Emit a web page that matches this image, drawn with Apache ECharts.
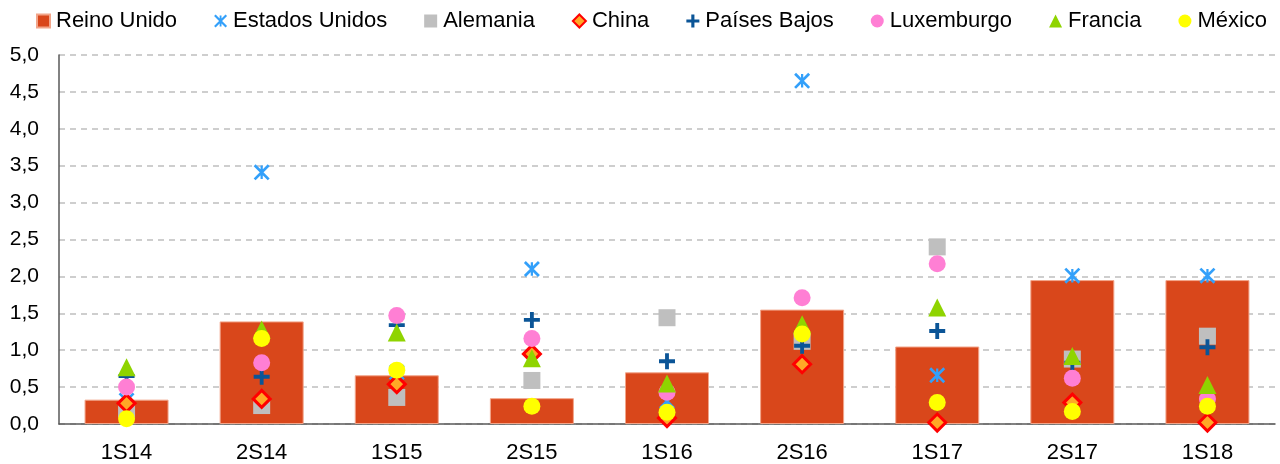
<!DOCTYPE html>
<html>
<head>
<meta charset="utf-8">
<title>Inversión por país</title>
<script src="https://cdn.jsdelivr.net/npm/echarts@6/dist/echarts.min.js"></script>
<style>
  html, body { margin: 0; padding: 0; background: #fff; }
  #chart { width: 1280px; height: 464px; }
</style>
</head>
<body>
<div id="chart"></div>
<script>
// categorías (semestres)
const categories = ["1S14", "2S14", "1S15", "2S15", "1S16", "2S16", "1S17", "2S17", "1S18"];

// valores
const reinoUnido    = [0.33, 1.39, 0.66, 0.35, 0.70, 1.55, 1.05, 1.95, 1.95];
const estadosUnidos = [0.32, 3.41, 0.70, 2.10, 0.31, 4.65, 0.66, 2.01, 2.01];
const alemania      = [0.20, 0.25, 0.36, 0.59, 1.44, 1.12, 2.40, 0.88, 1.19];
const china         = [0.28, 0.34, 0.54, 0.95, 0.08, 0.81, 0.02, 0.29, 0.02];
const paisesBajos   = [0.65, 0.64, 1.34, 1.41, 0.85, 1.06, 1.26, 0.83, 1.04];
const luxemburgo    = [0.50, 0.83, 1.47, 1.16, 0.43, 1.71, 2.17, 0.62, 0.34];
const francia       = [0.77, 1.28, 1.24, 0.89, 0.55, 1.35, 1.58, 0.92, 0.53];
const mexico        = [0.07, 1.16, 0.73, 0.24, 0.16, 1.22, 0.29, 0.17, 0.24];

// marcadores de estilo Excel
const starPath = "path://M0,12L12,0L100,88L88,100Z M88,0L100,12L12,100L0,88Z M43,8H57V92H43Z";
const plusPath = "path://M38,0H62V38H100V62H62V100H38V62H0V38H38Z";

const fmt = (v) => v.toFixed(1).replace(".", ",");

const scatter = (name, data, symbol, size, itemStyle) => ({
  name: name,
  type: "scatter",
  data: data,
  symbol: symbol,
  symbolSize: size,
  itemStyle: Object.assign({ opacity: 1 }, itemStyle),
});

const chart = echarts.init(document.getElementById("chart"));

const option = {
  animation: false,
  backgroundColor: "#fff",
  textStyle: { fontFamily: "Liberation Sans, Arial, sans-serif" },
  legend: {
    top: 5,
    left: 31,
    itemGap: 37,
    itemWidth: 13,
    itemHeight: 13,
    textStyle: { color: "#000", fontSize: 22, padding: [0, 0, 0, 1] },
    data: [
      { name: "Reino Unido", icon: "rect" },
      { name: "Estados Unidos" },
      { name: "Alemania" },
      { name: "China" },
      { name: "Países Bajos" },
      { name: "Luxemburgo" },
      { name: "Francia" },
      { name: "México" },
    ],
  },
  grid: { left: 59, right: 5, top: 55, bottom: 39 },
  xAxis: {
    type: "category",
    data: categories,
    axisLine: { lineStyle: { color: "#595959", width: 1.5 } },
    axisTick: { show: false },
    axisLabel: { color: "#000", fontSize: 22, margin: 18 },
  },
  yAxis: {
    type: "value",
    min: 0,
    max: 5,
    interval: 0.5,
    axisLine: { show: true, lineStyle: { color: "#595959", width: 1.5 } },
    axisTick: { show: false },
    axisLabel: { color: "#000", fontSize: 21, margin: 20, formatter: fmt },
    splitLine: { lineStyle: { color: "#BFBFBF", type: [6, 5], width: 1.5 } },
  },
  series: [
    {
      name: "Reino Unido",
      type: "bar",
      data: reinoUnido,
      barWidth: 84,
      itemStyle: { color: "#D9471B", borderColor: "#F2A58A", borderWidth: 1 },
    },
    scatter("Estados Unidos", estadosUnidos, starPath, 16, { color: "#33A0FA" }),
    scatter("Alemania", alemania, "rect", 17, { color: "#BFBFBF" }),
    scatter("China", china, "diamond", 17, { color: "#FFA826", borderColor: "#FF0000", borderWidth: 3 }),
    scatter("Países Bajos", paisesBajos, plusPath, 16, { color: "#0B5597" }),
    scatter("Luxemburgo", luxemburgo, "circle", 17, { color: "#FF7FD4" }),
    scatter("Francia", francia, "triangle", 18, { color: "#8FD400" }),
    scatter("México", mexico, "circle", 17, { color: "#FFFF00" }),
  ],
};

chart.setOption(option);
</script>
</body>
</html>
